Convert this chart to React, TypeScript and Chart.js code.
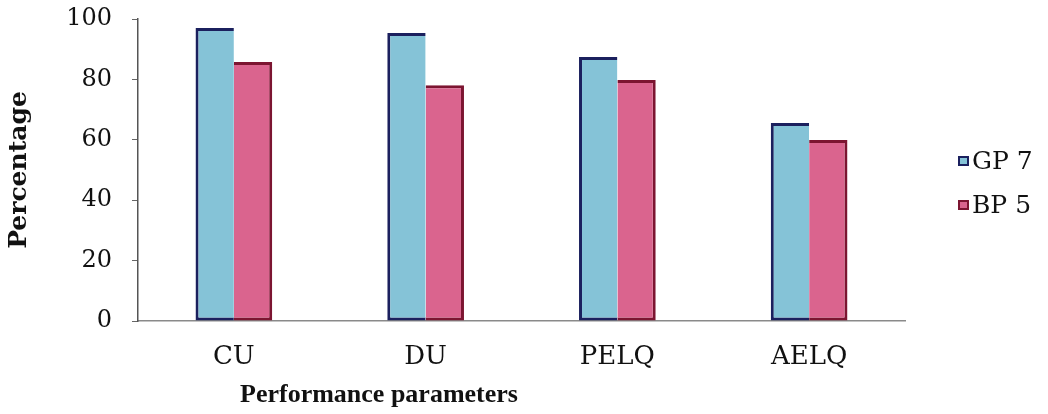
import React, { useEffect, useRef } from 'react';
import { Chart, registerables } from 'chart.js';

Chart.register(...registerables);

// Performance parameters compared for two emitters (percent)
const categories = ['CU', 'DU', 'PELQ', 'AELQ'];
const seriesNames = ['GP 7', 'BP 5'];
const gp7Values = [97.0, 95.4, 87.4, 65.6];
const bp5Values = [85.8, 78.1, 79.8, 59.9];
const yTickValues = [0, 20, 40, 60, 80, 100];
const xTitle = 'Performance parameters';
const yTitle = 'Percentage';

const gp7Fill = '#85c3d7';
const gp7Edge = '#1b205e';
const bp5Fill = '#da648e';
const bp5Edge = '#7c1531';

// Legend drawn to the right of the plot, squares with the series colours
const sideLegend = {
  id: 'sideLegend',
  afterDraw(chart: any) {
    const { ctx, chartArea } = chart;
    ctx.save();
    ctx.font = '25px "DejaVu Serif"';
    ctx.textAlign = 'left';
    ctx.textBaseline = 'middle';
    chart.data.datasets.forEach((ds: any, i: number) => {
      const x = chartArea.right + 53;
      const y = 161 + i * 44;
      ctx.fillStyle = ds.borderColor;
      ctx.fillRect(x, y - 5, 11, 10);
      ctx.fillStyle = ds.backgroundColor;
      ctx.fillRect(x + 2, y - 3, 7, 6);
      ctx.fillStyle = '#111';
      ctx.fillText(ds.label, x + 14, y + 1);
    });
    ctx.restore();
  },
};

// Axis caption under the category labels
const bottomCaption = {
  id: 'bottomCaption',
  afterDraw(chart: any) {
    const { ctx, chartArea } = chart;
    ctx.save();
    ctx.font = 'bold 26px "Liberation Serif"';
    ctx.fillStyle = '#111';
    ctx.textAlign = 'center';
    ctx.textBaseline = 'middle';
    ctx.fillText(xTitle, chartArea.left + 241, 395);
    ctx.restore();
  },
};

export default function App() {
  const canvasRef = useRef<HTMLCanvasElement | null>(null);

  useEffect(() => {
    const canvas = canvasRef.current;
    if (!canvas) return;
    const chart = new Chart(canvas, {
      type: 'bar',
      data: {
        labels: categories,
        datasets: [
          {
            label: seriesNames[0],
            data: gp7Values,
            backgroundColor: gp7Fill,
            borderColor: gp7Edge,
            borderWidth: { top: 3, left: 3, bottom: 3, right: 0 },
            borderSkipped: false,
          },
          {
            label: seriesNames[1],
            data: bp5Values,
            backgroundColor: bp5Fill,
            borderColor: bp5Edge,
            borderWidth: { top: 3, left: 0, bottom: 3, right: 3 },
            borderSkipped: false,
          },
        ],
      },
      options: {
        responsive: false,
        animation: false,
        layout: { padding: { left: 4, top: 19, right: 143, bottom: 0 } },
        datasets: {
          bar: { barPercentage: 1.0, categoryPercentage: 0.4 },
        },
        plugins: {
          legend: { display: false },
          tooltip: { enabled: false },
        },
        scales: {
          x: {
            grid: { display: false, drawTicks: false },
            border: { display: true, color: '#8a8a8a', width: 1.5, dash: [3, 2] },
            ticks: {
              padding: 21,
              color: '#111',
              font: { family: '"DejaVu Serif"', size: 26 },
            },
            afterFit(scale: any) {
              scale.height = 93;
            },
          },
          y: {
            min: 0,
            max: 100,
            afterBuildTicks(scale: any) {
              scale.ticks = yTickValues.map((v) => ({ value: v }));
            },
            ticks: {
              padding: 20,
              color: '#111',
              font: { family: '"DejaVu Serif"', size: 24 },
            },
            grid: { drawOnChartArea: false, drawTicks: true, tickLength: 6, color: '#666' },
            border: { display: true, color: '#555', width: 1.5, dash: [4, 2] },
            title: {
              display: true,
              text: yTitle,
              color: '#111',
              font: { family: '"DejaVu Serif"', size: 25, weight: 'bold' },
              padding: { top: 0, bottom: 0 },
            },
            afterFit(scale: any) {
              scale.width = 134;
              scale.paddingTop = 0;
              scale.paddingBottom = 0;
            },
          },
        },
      },
      plugins: [sideLegend, bottomCaption],
    });
    return () => chart.destroy();
  }, []);

  return (
    <div style={{ position: 'absolute', left: 0, top: 0, width: 1048, height: 414, background: '#fff' }}>
      <canvas ref={canvasRef} width={1048} height={414} />
    </div>
  );
}
